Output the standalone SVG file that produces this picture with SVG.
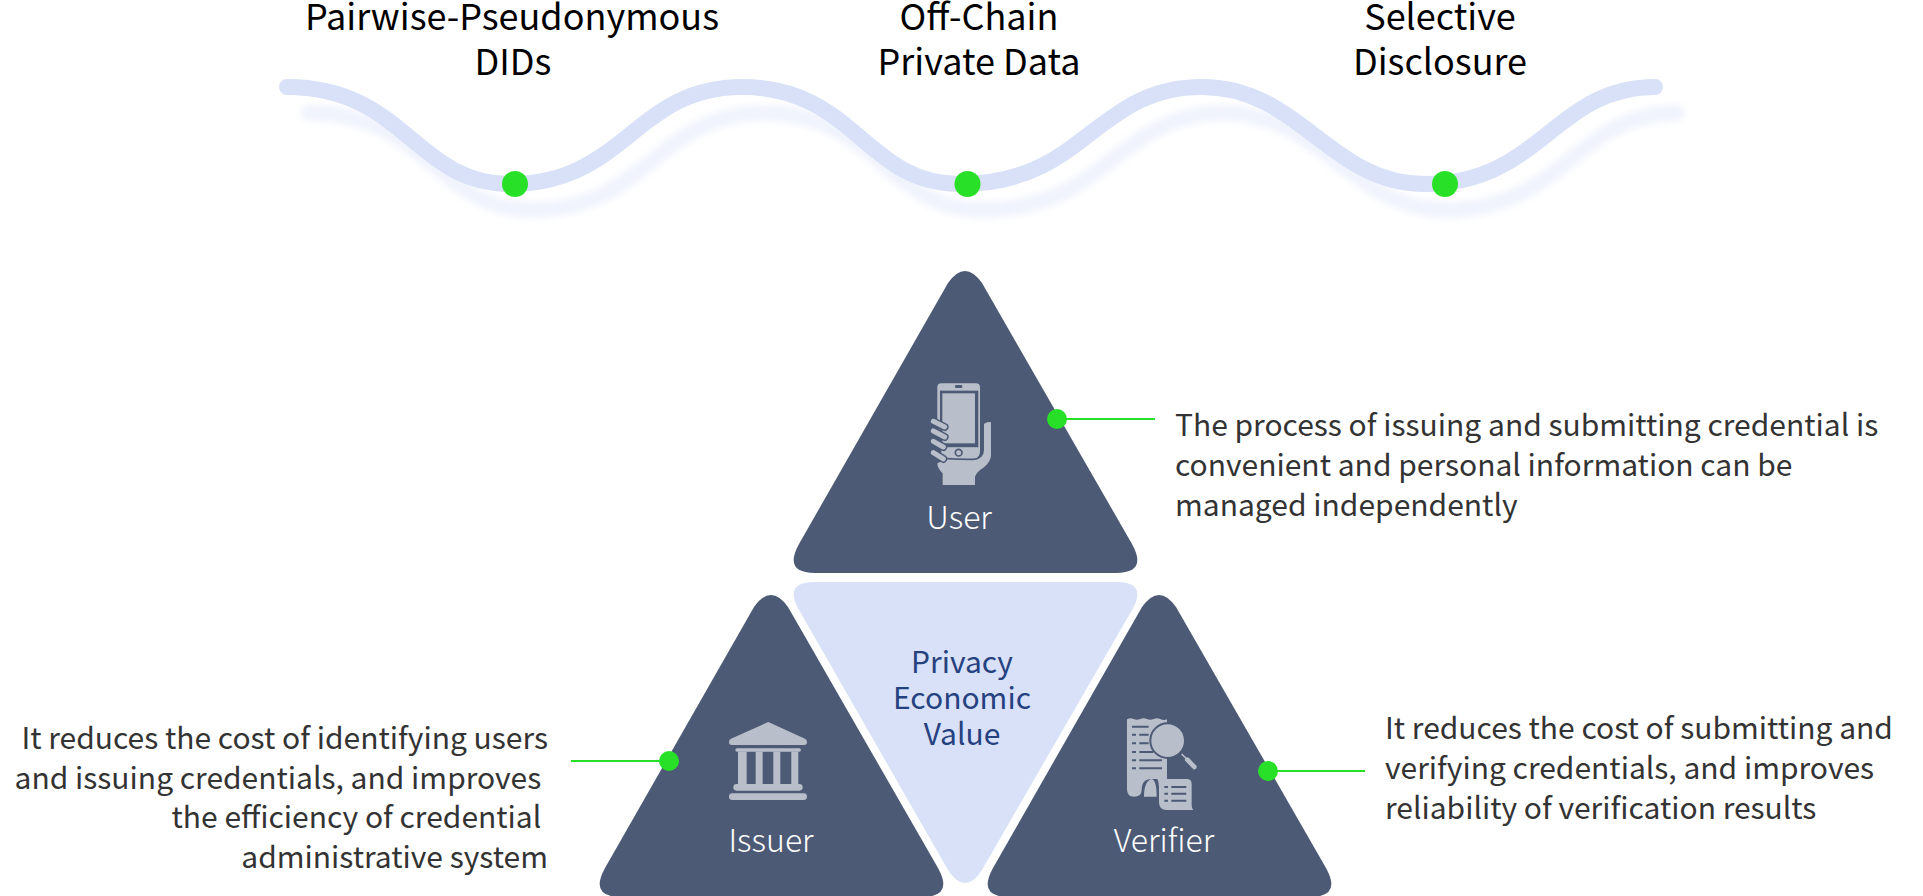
<svg xmlns="http://www.w3.org/2000/svg" width="1923" height="896" viewBox="0 0 1923 896">
<style>
.title{font:400 36px "Noto Sans CJK KR","Noto Sans",sans-serif;fill:#000;text-anchor:middle}
.body{font:400 30px "Noto Sans CJK KR","Noto Sans",sans-serif;fill:#333}
.end{text-anchor:end}
.lab{font:300 32px "Noto Sans CJK KR","Noto Sans",sans-serif;fill:#fff;text-anchor:middle}
.ctr{font:400 30px "Noto Sans CJK KR","Noto Sans",sans-serif;fill:#26417f;text-anchor:middle}
.tri{fill:#4c5a75}
.ic{fill:#b9bfca}
.icd{fill:#4c5a75}
.gd{fill:#28e028}
.gl{stroke:#28e028;stroke-width:2;fill:none}
.wave{fill:none;stroke:#d8e1f8;stroke-width:16;stroke-linecap:round}
</style>
<defs><filter id="bl" x="-5%" y="-30%" width="110%" height="160%"><feGaussianBlur stdDeviation="3"/></filter></defs>
<g id="connectors">
<path id="waveShadow" class="wave" style="opacity:.38" filter="url(#bl)" transform="translate(22 26)" d="M287 87C405 87 415 184 510 184C625 184 635 87 742 87C855 87 865 184 960 184C1085 184 1095 87 1202 87C1300 87 1330 184 1425 184C1540 184 1555 87 1655 87"/>
<path id="wave" class="wave" d="M287 87C405 87 415 184 510 184C625 184 635 87 742 87C855 87 865 184 960 184C1085 184 1095 87 1202 87C1300 87 1330 184 1425 184C1540 184 1555 87 1655 87"/>
<path class="gl" d="M1057 419H1155"/>
<path class="gl" d="M571 761H668"/>
<path class="gl" d="M1268 771H1365"/>
</g>
<g id="title1"><text class="title" x="512" y="30">Pairwise-Pseudonymous</text><text class="title" x="513" y="75">DIDs</text><circle class="gd" cx="515" cy="184" r="13"/></g>
<g id="title2"><text class="title" x="979" y="30">Off-Chain</text><text class="title" x="979" y="75">Private Data</text><circle class="gd" cx="967.500" cy="184" r="13"/></g>
<g id="title3"><text class="title" x="1440" y="30">Selective</text><text class="title" x="1440" y="75">Disclosure</text><circle class="gd" cx="1445" cy="184" r="13"/></g>
<g id="user">
<path class="tri" d="M948 283Q965 259 982 283L1132 544Q1148 573 1116 573H815Q783 573 799 544Z"/>
<g transform="translate(780 260) scale(.3333)">
<path class="ic" d="M472 480V382Q472 370 484 370H588Q600 370 600 382V575Q600 598 575 598H500Z"/>
<path class="ic" d="M612 492Q622 484 633 487V585Q633 605 612 622Q590 636 585 650V675H488V640Q472 625 472 610L500 598H580Q612 598 612 570Z"/>
<rect class="icd" x="480" y="392" width="115" height="170"/>
<rect class="ic" x="487" y="400" width="98" height="150"/>
<path d="M480 562V590Q490 598 580 598Q604 598 604 570V500" fill="none" stroke="#4c5a75" stroke-width="5"/>
<rect class="ic" x="484" y="563" width="108" height="30"/>
<rect class="icd" x="525" y="375" width="22" height="9" rx="4"/>
<circle cx="536" cy="578" r="10" fill="#b9bfca" stroke="#4c5a75" stroke-width="5"/>
<g stroke-linecap="round"><path d="M460 484L494 501M460 513L494 531M460 544L490 561M460 578L490 597" stroke="#4c5a75" stroke-width="24"/><path d="M460 484L494 501M460 513L494 531M460 544L490 561M460 578L490 597" stroke="#b9bfca" stroke-width="15"/></g>
</g>
<text class="lab" x="959" y="529">User</text>
<circle class="gd" cx="1057" cy="419" r="10"/>
<text class="body" x="1175" y="436">The process of issuing and submitting credential is</text>
<text class="body" x="1175" y="476">convenient and personal information can be</text>
<text class="body" x="1175" y="516">managed independently</text>
</g>
<g id="value">
<path fill="#d8e1f8" d="M815 582H1116Q1148 582 1132 610L982 870Q965 896 948 870L799 610Q783 582 815 582Z"/>
<text class="ctr" x="962" y="673">Privacy</text><text class="ctr" x="962" y="709">Economic</text><text class="ctr" x="962" y="745">Value</text>
</g>
<g id="issuer">
<path class="tri" d="M754 607Q771 583 788 607L938 868Q954 897 922 897H621Q589 897 605 868Z"/>
<g transform="translate(590 580) scale(.3333)">
<path class="ic" d="M535 426L645 476Q651 479 651 486Q651 495 643 495H425Q417 495 417 486Q417 479 423 476Z"/>
<rect class="ic" x="436" y="505" width="197" height="10" rx="5"/>
<rect class="ic" x="444" y="515" width="26" height="100"/><rect class="ic" x="497" y="515" width="21" height="100"/><rect class="ic" x="550" y="515" width="21" height="100"/><rect class="ic" x="604" y="515" width="21" height="100"/>
<rect class="ic" x="430" y="612" width="208" height="20" rx="10"/><rect class="ic" x="417" y="640" width="234" height="20" rx="10"/>
</g>
<text class="lab" x="771" y="852">Issuer</text>
<circle class="gd" cx="669" cy="761" r="10"/>
<text class="body end" x="548" y="749">It reduces the cost of identifying users</text>
<text class="body end" x="548" y="789" xml:space="preserve">and issuing credentials, and improves </text>
<text class="body end" x="548" y="828" xml:space="preserve">the efficiency of credential </text>
<text class="body end" x="548" y="868">administrative system</text>
</g>
<g id="verifier">
<path class="tri" d="M1142 607Q1159 583 1176 607L1326 868Q1342 897 1310 897H1009Q977 897 993 868Z"/>
<g transform="translate(960 580) scale(.3333)">
<path class="ic" d="M501 418Q511 412 521 417T541 417T561 417T581 417T601 417T621 418V597H575Q545 597 545 630Q545 650 522 650Q501 650 501 628Z"/>
<path class="ic" d="M552 650Q552 604 575 597Q590 600 590 650Z"/>
<path class="ic" d="M592 597H680Q695 597 695 612V675Q695 685 700 690H620Q597 690 597 665V620Q597 605 592 597Z"/>
<g stroke="#4c5a75" stroke-width="6" fill="none"><path d="M516 440H566M516 464H528M538 464H566M516 490H528M538 490H566M516 516H528M538 516H580M516 541H528M538 541H606M516 565H528M538 565H606M613 621H624M634 621H679M613 641H624M634 641H679M613 662H624M634 662H679"/></g>
<circle class="ic" cx="623" cy="482" r="52" stroke="#4c5a75" stroke-width="6"/>
<path d="M665 522L680 537" stroke="#b9bfca" stroke-width="5"/><path d="M682 539L703 561" stroke="#b9bfca" stroke-width="14" stroke-linecap="round"/>
</g>
<text class="lab" x="1164" y="852">Verifier</text>
<circle class="gd" cx="1268" cy="771" r="10"/>
<text class="body" x="1385" y="739">It reduces the cost of submitting and</text>
<text class="body" x="1385" y="779">verifying credentials, and improves</text>
<text class="body" x="1385" y="819">reliability of verification results</text>
</g>
</svg>
